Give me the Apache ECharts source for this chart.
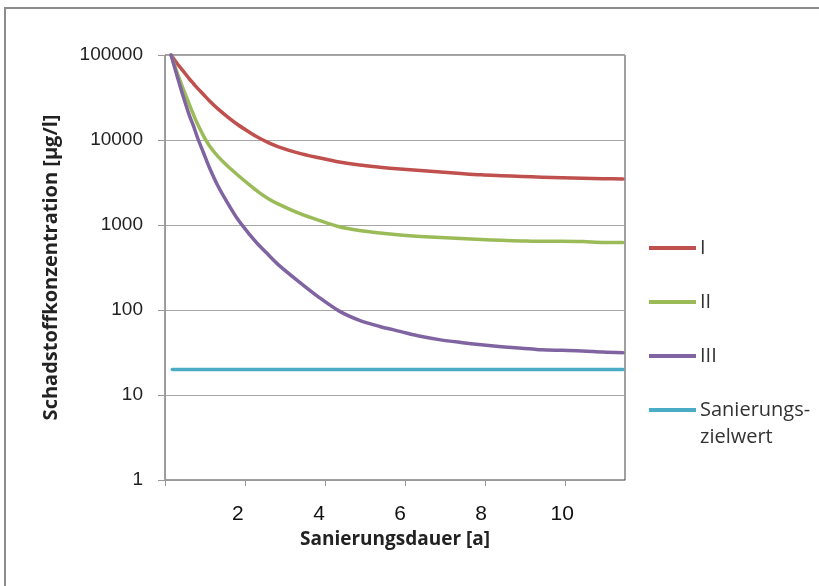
<!DOCTYPE html>
<html style="height: 100%">
  <head>
    <meta charset="utf-8" />
    <title>Sanierungsdauer</title>
    <script src="https://cdn.jsdelivr.net/npm/echarts@6/dist/echarts.min.js"></script>
  </head>
  <body style="height: 100%; margin: 0; background: #fff">
    <div id="container" style="width: 819px; height: 586px"></div>

    <script type="text/javascript">
      // Jahre
      var years = [0.35, 0.5, 0.65, 0.8, 0.9, 1, 1.15, 1.3, 1.5, 1.75, 2, 2.3, 2.5, 2.75, 3, 3.5,
        4, 4.5, 5, 5.5, 6, 6.5, 7, 7.5, 8, 8.5, 9, 9.5, 10, 10.5, 11, 11.5];
      var seriesI = [100000, 79400, 64600, 52500, 46200, 40700, 34300, 28800, 23400, 18600,
        15100, 12200, 10700, 9330, 8320, 7000, 6170, 5500, 5070, 4790, 4550, 4370, 4190, 4030,
        3890, 3800, 3720, 3650, 3590, 3560, 3510, 3470];
      var seriesII = [100000, 61700, 39800, 26300, 20000, 15500, 11200, 8500, 6450, 4900,
        3850, 2920, 2455, 2040, 1760, 1380, 1135, 955, 861, 804, 762, 733, 713, 692,
        676, 660, 650, 643, 645, 638, 624, 621];
      var seriesIII = [100000, 56200, 32400, 19500, 14800, 10700, 7080, 4680, 2920, 1800,
        1160, 760, 590, 447, 340, 216, 141, 97, 75.5, 64, 56, 49, 44.5, 41.5,
        39, 37, 35.5, 34, 33.5, 33, 32, 31.5];
      var zielwertYears = [0.38, 11.5];
      var zielwert = [20, 20];
      var xLabels = [2, 4, 6, 8, 10];
      var xTicks = [0.2, 2.17, 4.15, 6.12, 8.1, 10.07];

      function pairs(xs, ys) {
        return xs.map(function (x, i) { return [x, ys[i]]; });
      }

      var myChart = echarts.init(document.getElementById('container'));

      function line(name, color, data) {
        return {
          name: name,
          type: 'line',
          data: data,
          showSymbol: false,
          smooth: 0.3,
          lineStyle: { color: color, width: 3.5, cap: 'round', join: 'round' },
          itemStyle: { color: color }
        };
      }

      myChart.setOption({
        animation: false,
        backgroundColor: '#fff',
        grid: {
          left: 165, right: 194, top: 55, bottom: 106,
          show: true, borderColor: '#404040', borderWidth: 1
        },
        graphic: [
          {
            type: 'rect',
            shape: { x: 5, y: 8, width: 830, height: 600 },
            style: { fill: 'none', stroke: '#8c8c8c', lineWidth: 2 },
            silent: true
          },
          {
            type: 'text',
            left: 700, top: 427,
            style: { text: 'zielwert', fill: '#333', font: '20px "Open Sans"' }
          }
        ],
        legend: {
          orient: 'vertical',
          left: 649, top: 238, padding: 0,
          itemWidth: 47, itemHeight: 4, itemGap: 34,
          icon: 'rect',
          textStyle: { color: '#333', fontSize: 20, fontFamily: 'Open Sans', padding: [0, 0, 0, -1] },
          formatter: function (n) { return n === 'Sanierungszielwert' ? 'Sanierungs-' : n; },
          data: ['I', 'II', 'III', 'Sanierungszielwert']
        },
        xAxis: {
          type: 'value',
          min: 0.2, max: 11.55,
          name: 'Sanierungsdauer [a]',
          nameLocation: 'middle',
          nameGap: 42,
          nameTextStyle: { fontSize: 19, fontWeight: 'bold', fontFamily: 'Open Sans', color: '#222' },
          axisLine: { lineStyle: { color: '#999' } },
          axisTick: { show: true, length: 6, customValues: xTicks, lineStyle: { color: '#999' } },
          axisLabel: {
            customValues: xLabels, margin: 24,
            fontSize: 21, fontFamily: 'Liberation Sans', color: '#111'
          },
          splitLine: { show: false }
        },
        yAxis: {
          type: 'log',
          logBase: 10,
          min: 1, max: 100000,
          name: 'Schadstoffkonzentration [µg/l]',
          nameLocation: 'middle',
          nameGap: 104,
          nameRotate: 90,
          nameTextStyle: { fontSize: 20, fontWeight: 'bold', fontFamily: 'Open Sans', color: '#222' },
          axisLine: { show: true, lineStyle: { color: '#999' } },
          axisTick: { show: true, length: 7, lineStyle: { color: '#999' } },
          axisLabel: {
            margin: 22, fontSize: 19, fontFamily: 'Liberation Sans', color: '#222',
            formatter: function (v) { return String(Math.round(v)); }
          },
          splitLine: { lineStyle: { color: '#a6a6a6' } }
        },
        series: [
          line('I', '#C0504D', pairs(years, seriesI)),
          line('II', '#9BBB59', pairs(years, seriesII)),
          line('III', '#8064A2', pairs(years, seriesIII)),
          line('Sanierungszielwert', '#4BACC6', pairs(zielwertYears, zielwert))
        ]
      });
    </script>
  </body>
</html>
